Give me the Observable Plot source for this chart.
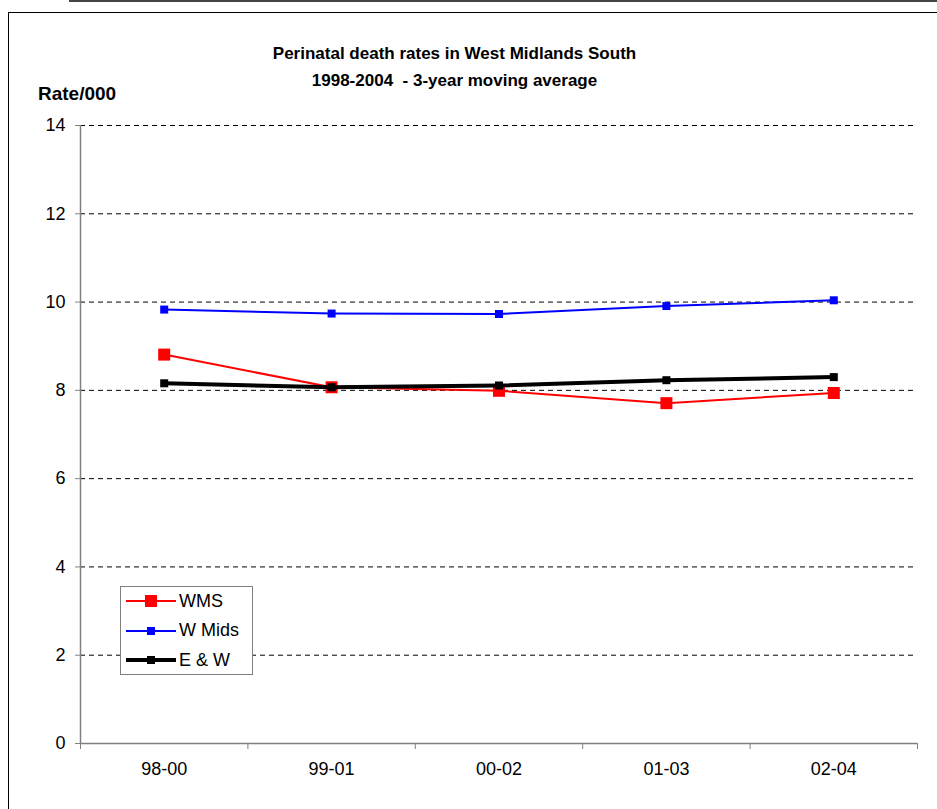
<!DOCTYPE html>
<html>
<head>
<meta charset="utf-8">
<script src="https://cdn.jsdelivr.net/npm/d3@7"></script>
<script src="https://cdn.jsdelivr.net/npm/@observablehq/plot@0.6"></script>
<style>
  html, body { margin: 0; padding: 0; background: #fff; }
  #wrap { position: relative; width: 937px; height: 809px; overflow: hidden; font-family: Arial, "Liberation Sans", sans-serif; }
  #wrap > svg { position: absolute; left: 0; top: 0; }
  .topline { position: absolute; left: 69px; top: 0; width: 880px; height: 2px; background: #444; }
  .frame { position: absolute; left: 8px; top: 12px; width: 1000px; height: 900px; border-left: 1.5px solid #000; border-top: 1.5px solid #000; }
  .title { position: absolute; left: 0; width: 937px; top: 40px; text-align: center; font-weight: bold; font-size: 17px; line-height: 27px; color: #000; }
  .title div { position: relative; left: -14px; }
  .ylab { position: absolute; left: 38px; top: 83px; font-weight: bold; font-size: 19px; }
  .legend { position: absolute; left: 120px; top: 586px; width: 133px; height: 89px; border: 1px solid #808080; background: #fff; box-sizing: border-box; }
  .legend .row { position: absolute; left: 5px; height: 20px; display: flex; align-items: center; font-size: 18px; }
  .legend svg { margin-right: 3px; }
</style>
</head>
<body>
<div id="wrap">
  <div class="topline"></div>
  <div class="frame"></div>
</div>
<script>
const periods = ["98-00", "99-01", "00-02", "01-03", "02-04"];
const seriesNames = ["WMS", "W Mids", "E & W"];
const wms = [8.81, 8.07, 7.99, 7.71, 7.94];
const wMids = [9.83, 9.74, 9.73, 9.91, 10.04];
const eAndW = [8.16, 8.07, 8.11, 8.23, 8.30];
const yTicks = [0, 2, 4, 6, 8, 10, 12, 14];
const gridTicks = [2, 4, 6, 8, 10, 12, 14];

const styles = {
  "WMS": {color: "#ff0000", width: 2, side: 12},
  "W Mids": {color: "#0000ff", width: 2, side: 8},
  "E & W": {color: "#000000", width: 4, side: 8}
};
const values = {"WMS": wms, "W Mids": wMids, "E & W": eAndW};

const rows = [];
for (const s of seriesNames) {
  values[s].forEach((v, i) => rows.push({series: s, period: periods[i], idx: i + 0.5, value: v}));
}
const boundaries = d3.range(periods.length + 1);
const labelRows = periods.map((p, i) => ({period: p, idx: i + 0.5}));

const marks = [
  Plot.ruleY(gridTicks, {stroke: "#000", strokeWidth: 1, strokeDasharray: "5,4"}),
  Plot.ruleX([0], {stroke: "#808080", strokeWidth: 1.5}),
  Plot.ruleY([0], {stroke: "#808080", strokeWidth: 1.5}),
  Plot.axisY({ticks: yTicks, tickSize: 5, tickPadding: 10, tickFormat: d => String(d), fontSize: 18, stroke: "#808080", color: "#000", label: null}),
  Plot.axisX({ticks: boundaries, tickSize: 6, tickFormat: () => "", stroke: "#808080", label: null}),
  Plot.text(labelRows, {x: "idx", text: "period", frameAnchor: "bottom", dy: 31, fontSize: 18, fill: "#000"})
];
for (const s of seriesNames) {
  const st = styles[s];
  const data = rows.filter(r => r.series === s);
  marks.push(Plot.line(data, {x: "idx", y: "value", stroke: st.color, strokeWidth: st.width}));
  marks.push(Plot.dot(data, {x: "idx", y: "value", symbol: "square", r: st.side / Math.sqrt(Math.PI), fill: st.color, stroke: "none"}));
}

const chart = Plot.plot({
  width: 937,
  height: 809,
  marginLeft: 80,
  marginRight: 20,
  marginTop: 125,
  marginBottom: 66,
  style: {fontFamily: "Arial, 'Liberation Sans', sans-serif", fontSize: "18px", background: "transparent", overflow: "visible"},
  x: {type: "linear", domain: [0, periods.length], axis: null},
  y: {domain: [0, 14], axis: null},
  marks
});
const wrap = document.getElementById("wrap");
wrap.insertBefore(chart, wrap.firstChild);

const title = document.createElement("div");
title.className = "title";
title.innerHTML = "<div>Perinatal death rates in West Midlands South</div><div>1998-2004&nbsp; - 3-year moving average</div>";
wrap.appendChild(title);
const ylab = document.createElement("div");
ylab.className = "ylab";
ylab.textContent = "Rate/000";
wrap.appendChild(ylab);

const legend = document.createElement("div");
legend.className = "legend";
seriesNames.forEach((s, i) => {
  const st = styles[s];
  const row = document.createElement("div");
  row.className = "row";
  row.style.top = (4 + i * 29.5) + "px";
  const ns = "http://www.w3.org/2000/svg";
  const sv = document.createElementNS(ns, "svg");
  sv.setAttribute("width", 50); sv.setAttribute("height", 20);
  const ln = document.createElementNS(ns, "line");
  ln.setAttribute("x1", 0); ln.setAttribute("x2", 50); ln.setAttribute("y1", 10); ln.setAttribute("y2", 10);
  ln.setAttribute("stroke", st.color); ln.setAttribute("stroke-width", st.width);
  const rc = document.createElementNS(ns, "rect");
  rc.setAttribute("x", 25 - st.side / 2); rc.setAttribute("y", 10 - st.side / 2);
  rc.setAttribute("width", st.side); rc.setAttribute("height", st.side); rc.setAttribute("fill", st.color);
  sv.appendChild(ln); sv.appendChild(rc);
  row.appendChild(sv);
  const t = document.createElement("span");
  t.textContent = s;
  row.appendChild(t);
  legend.appendChild(row);
});
wrap.appendChild(legend);
</script>
</body>
</html>
